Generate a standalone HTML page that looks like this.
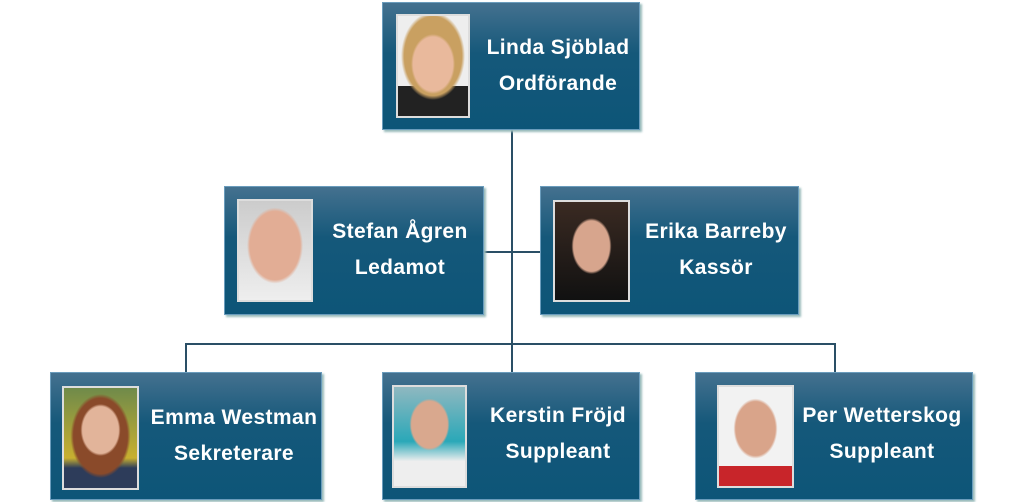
<!DOCTYPE html>
<html><head><meta charset="utf-8"><style>
body{margin:0;width:1024px;height:502px;background:#fff;position:relative;overflow:hidden;font-family:"Liberation Sans",sans-serif}
.b{position:absolute;background:linear-gradient(#44718f,#15587a 40%,#0d5578);border:1px solid #6a9cbc;box-shadow:2px 2px 2px #9bb;box-sizing:border-box}
.t{position:absolute;color:#fff;font-weight:bold;font-size:21px;letter-spacing:0.4px;line-height:36px;text-align:center;white-space:nowrap}
.p{position:absolute;border:2px solid #ddd;box-sizing:border-box;overflow:hidden}
.l{position:absolute;background:#2a4f66}
</style></head><body>
<div class="l" style="left:511px;top:130px;width:2px;height:242px"></div>
<div class="l" style="left:484px;top:251px;width:56px;height:2px"></div>
<div class="l" style="left:185px;top:343px;width:651px;height:2px"></div>
<div class="l" style="left:185px;top:343px;width:2px;height:29px"></div>
<div class="l" style="left:834px;top:343px;width:2px;height:29px"></div>

<div class="b" style="left:382px;top:2px;width:258px;height:128px"></div>
<div class="p" style="left:396px;top:14px;width:74px;height:104px;background:radial-gradient(ellipse 22px 30px at 50% 48%,#e9b99c 90%,transparent 100%),radial-gradient(ellipse 32px 44px at 50% 40%,#c9a061 90%,transparent 100%),linear-gradient(#eee 70%,#222 70%)"></div>
<div class="t" style="left:478px;top:30px;width:160px">Linda Sjöblad<br>Ordförande</div>

<div class="b" style="left:224px;top:186px;width:260px;height:129px"></div>
<div class="p" style="left:237px;top:199px;width:76px;height:103px;background:radial-gradient(ellipse 28px 38px at 50% 45%,#e2ad95 90%,transparent 100%),linear-gradient(#ccc,#eee)"></div>
<div class="t" style="left:322px;top:214px;width:156px">Stefan Ågren<br>Ledamot</div>

<div class="b" style="left:540px;top:186px;width:259px;height:129px"></div>
<div class="p" style="left:553px;top:200px;width:77px;height:102px;background:radial-gradient(ellipse 20px 28px at 50% 45%,#d7a58d 90%,transparent 100%),linear-gradient(#3a2a22,#111)"></div>
<div class="t" style="left:636px;top:214px;width:160px">Erika Barreby<br>Kassör</div>

<div class="b" style="left:50px;top:372px;width:272px;height:128px"></div>
<div class="p" style="left:62px;top:386px;width:77px;height:104px;background:radial-gradient(ellipse 20px 26px at 50% 42%,#e2b49a 90%,transparent 100%),radial-gradient(ellipse 30px 42px at 50% 48%,#8a4a2a 90%,transparent 100%),linear-gradient(#6f8a4a,#c8b030 70%,#2d3c5a 80%)"></div>
<div class="t" style="left:144px;top:400px;width:180px">Emma Westman<br>Sekreterare</div>

<div class="b" style="left:382px;top:372px;width:258px;height:128px"></div>
<div class="p" style="left:392px;top:385px;width:75px;height:103px;background:radial-gradient(ellipse 20px 26px at 50% 38%,#d9a88e 90%,transparent 100%),linear-gradient(#8fb8c0,#2aa8b8 55%,#eee 75%)"></div>
<div class="t" style="left:480px;top:398px;width:156px">Kerstin Fröjd<br>Suppleant</div>

<div class="b" style="left:695px;top:372px;width:278px;height:128px"></div>
<div class="p" style="left:717px;top:385px;width:77px;height:103px;background:radial-gradient(ellipse 22px 30px at 50% 42%,#d9a48a 90%,transparent 100%),linear-gradient(#f2f2f2 80%,#c8252a 80%)"></div>
<div class="t" style="left:798px;top:398px;width:168px">Per Wetterskog<br>Suppleant</div>
</body></html>
